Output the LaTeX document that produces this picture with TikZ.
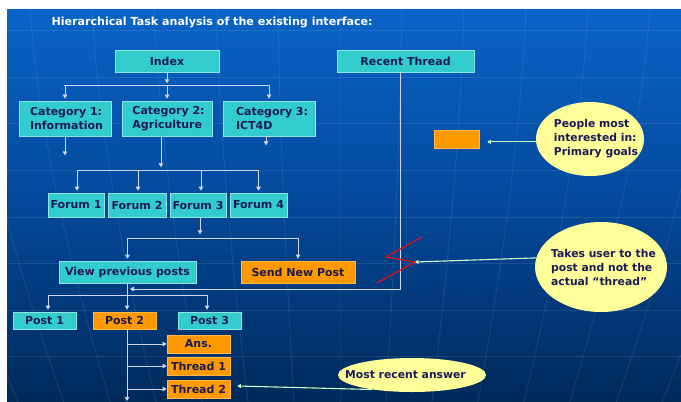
\documentclass[tikz,border=0pt]{standalone}
\usepackage{fontspec}
\setmainfont{DejaVu Sans}
\usetikzlibrary{arrows.meta,shapes.geometric}
\definecolor{cy}{HTML}{33CCCC}
\definecolor{og}{HTML}{FF9900}
\definecolor{ink}{HTML}{1A1A58}
\definecolor{wirec}{HTML}{D0D8E8}
\definecolor{notec}{HTML}{FFFF99}
\definecolor{pointc}{HTML}{CCFFCC}
\definecolor{bgtop}{HTML}{0964C8}
\definecolor{bgmid}{HTML}{04489A}
\definecolor{bgbot}{HTML}{002A5A}
\definecolor{zig}{HTML}{E0101A}
\begin{document}
\begin{tikzpicture}[x=1pt,y=-1pt,
  box/.style={draw=cy!55!white, line width=0.6pt, fill=cy, text=ink,
    font=\bfseries\fontsize{11}{14}\selectfont, inner sep=0pt, minimum height=22pt, align=left},
  obox/.style={box, fill=og, draw=og!70!white},
  wire/.style={draw=wirec, line width=0.8pt},
  arr/.style={wire, -{Triangle[width=4.5pt,length=4pt]}},
  notebox/.style={ellipse, fill=notec, draw=none, inner sep=0pt},
  notetext/.style={text=ink, inner sep=0pt, font=\bfseries\fontsize{10.8}{14}\selectfont, align=left},
  pointer/.style={draw=pointc, line width=1.1pt, -{Triangle[width=4pt,length=3.5pt]}},
  gridline/.style={draw=white, opacity=0.09, line width=0.8pt}
]
\useasboundingbox (0,0) rectangle (681,402);
\fill[white] (0,0) rectangle (681,402);
\shade[top color=bgtop, bottom color=bgbot, middle color=bgmid] (7,9) rectangle (681,402);
\begin{scope}
\clip (7,9) rectangle (681,402);
\foreach \yy in {30,77,123,170,217,263,310,356}
  \draw[gridline] (7,\yy) -- (681,\yy);
\foreach \k in {-7,...,7}
  \draw[gridline] (340+\k*62,9) .. controls (340+\k*60,150) and (340+\k*52,300) .. (340+\k*46,402);
\end{scope}

\node[anchor=base west, text=white, font=\bfseries\fontsize{11.1}{12}\selectfont] (title) at (48,25) {Hierarchical Task analysis of the existing interface:};

% boxes
\node[box, minimum width=104pt, align=center] (idx) at (167,61) {Index};
\node[box, minimum width=137pt, align=center] (rt) at (405.5,61) {Recent Thread};
\node[box, minimum width=92pt, minimum height=35pt] (c1) at (65,118.5) {\hspace*{3pt}Category 1:\\\hspace*{3pt}Information};
\node[box, minimum width=90pt, minimum height=35pt] (c2) at (167,118.5) {\hspace*{3pt}Category 2:\\\hspace*{3pt}Agriculture};
\node[box, minimum width=92pt, minimum height=35pt, text width=78pt] (c3) at (269,118.5) {\hspace*{6pt}Category 3:\\\hspace*{6pt}ICT4D};
\node[box, minimum width=56pt, minimum height=24pt] (f1) at (76,205) {Forum 1};
\node[box, minimum width=58pt, minimum height=24pt] (f2) at (137,205) {Forum 2};
\node[box, minimum width=56pt, minimum height=24pt] (f3) at (198,205) {Forum 3};
\node[box, minimum width=57pt, minimum height=24pt] (f4) at (258.5,205) {Forum 4};
\node[box, minimum width=137pt] (vp) at (127.5,272) {View previous posts};
\node[obox, minimum width=114pt] (snp) at (298,272) {Send New Post};
\node[box, minimum width=63pt, minimum height=17pt] (p1) at (44.5,320.5) {Post 1};
\node[obox, minimum width=63pt, minimum height=17pt] (p2) at (124.5,320.5) {Post 2};
\node[box, minimum width=63pt, minimum height=17pt] (p3) at (209.5,320.5) {Post 3};
\node[obox, minimum width=63pt, minimum height=18pt] (ans) at (198.5,344) {Ans.};
\node[obox, minimum width=63pt, minimum height=18pt] (t1) at (198.5,366) {Thread 1};
\node[obox, minimum width=63pt, minimum height=18pt] (t2) at (198.5,389) {Thread 2};
\node[obox, minimum width=45pt, minimum height=18pt] (ob) at (456.5,139) {};

% notes
\node[notebox, minimum width=108pt, minimum height=74pt] (e1) at (590,139) {};
\node[notetext] (e1t) at (596,139) {People most\\interested in:\\Primary goals};
\node[notebox, minimum width=132pt, minimum height=90pt] (e2) at (601,267) {};
\node[notetext] (e2t) at (603.5,267) {Takes user to the\\post and not the\\actual ``thread''};
\node[notebox, minimum width=148pt, minimum height=34pt] (e3) at (412,375) {};
\node[notetext] (e3t) at (405.5,375) {Most recent answer};

% tree connectors
\coordinate (j1) at (167,85);
\draw[arr] (idx.south) -- ++(0,11);
\draw[wire] ([xshift=-1pt]c1.north |- j1) -- (c3.north |- j1);
\foreach \n in {c1,c2,c3}
  \draw[arr, shorten >=2pt] (\n.north |- j1) -- (\n.north);
\draw[arr] (c1.south) -- ++(0,19);
\draw[arr] ([xshift=-3pt]c3.south) -- ++(0,9);

\coordinate (j2) at (161,170);
\draw[arr] ([xshift=-6pt]c2.south) -- ++(0,31);
\draw[wire] ([xshift=1pt]f1.north |- j2) -- (f4.north |- j2);
\foreach \n/\dx in {f1/1,f2/1,f3/3,f4/0}
  \draw[arr, shorten >=2pt] ([xshift=\dx pt]\n.north |- j2) -- ([xshift=\dx pt]\n.north);

\coordinate (j3) at (200,238);
\draw[arr] ([xshift=2pt]f3.south) -- ++(0,17);
\draw[wire] (vp.north |- j3) -- (snp.north |- j3);
\foreach \n in {vp,snp}
  \draw[arr, shorten >=2pt] (\n.north |- j3) -- (\n.north);

\coordinate (j4) at (127,295);
\draw[wire] ([xshift=-0.5pt]vp.south) -- (j4);
\draw[wire] ([xshift=3.5pt]p1.north |- j4) -- ([xshift=-2.5pt]p3.north |- j4);
\foreach \n/\dx in {p1/3.5,p2/2.5,p3/-2.5}
  \draw[arr, shorten >=2pt] ([xshift=\dx pt]\n.north |- j4) -- ([xshift=\dx pt]\n.north);

\coordinate (rtend) at (130,289);
\draw[arr] ([xshift=-5.5pt]rt.south) |- (rtend);

\coordinate (pend) at (127,401);
\draw[arr] ([xshift=2.5pt]p2.south) -- (pend);
\foreach \n in {ans,t1,t2}
  \draw[arr] (\n.west -| pend) -- (\n.west);

% red zigzag
\coordinate (zz) at (415,262);
\draw[zig, line width=1.2pt] (422,237) -- (386,257) -- (zz) -- (377,283);

% pointers
\draw[pointer] (e1.183) -- ([xshift=8pt]ob.east |- e1.183);
\draw[pointer] (e2.172) -- (zz);
\draw[pointer] (e3.200) -- ([xshift=7pt,yshift=3pt]t2.east);
\end{tikzpicture}
\end{document}
